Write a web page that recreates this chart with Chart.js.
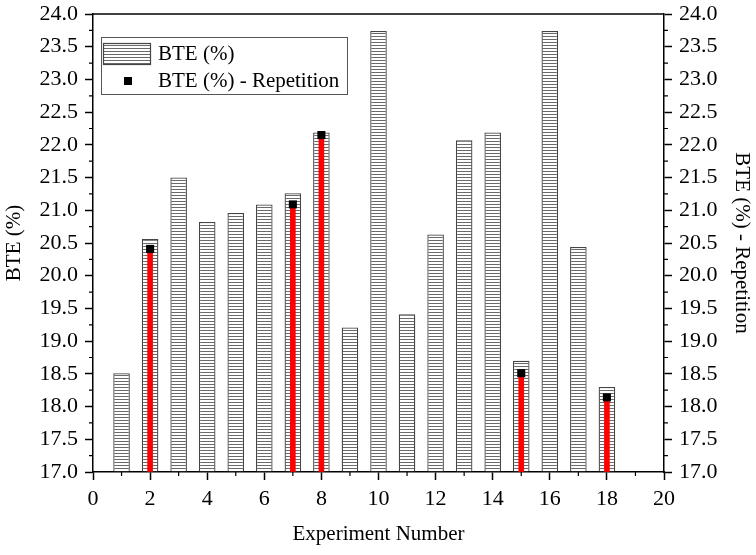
<!DOCTYPE html>
<html>
<head>
<meta charset="utf-8">
<script src="https://cdn.jsdelivr.net/npm/chart.js@4/dist/chart.umd.min.js"></script>
<style>
  html, body { margin: 0; padding: 0; background: #fff; }
  #wrap { width: 756px; height: 555px; }
</style>
</head>
<body>
<div id="wrap"><canvas id="bteChart" width="756" height="555"></canvas></div>
<script>
const experiments = [1, 2, 3, 4, 5, 6, 7, 8, 9, 10, 11, 12, 13, 14, 15, 16, 17, 18];
const bte = [18.51, 20.56, 21.50, 20.82, 20.96, 21.09, 21.26, 22.19, 19.21, 23.74, 19.41, 20.63, 22.07, 22.19, 18.70, 23.74, 20.44, 18.30];

const repExperiments = [2, 7, 8, 15, 18];
const bteRepetition = [20.41, 21.09, 22.15, 18.51, 18.14];

const yMin = 17, yMax = 24;
const FONT = "'Liberation Serif', 'Times New Roman', serif";
Chart.defaults.font.family = FONT;
Chart.defaults.font.size = 21;
Chart.defaults.color = "#000";

// horizontal line hatch for the bars
function hatch() {
    const c = document.createElement("canvas");
    c.width = 4; c.height = 3;
    const g = c.getContext("2d");
    g.fillStyle = "#fff";
    g.fillRect(0, 0, 4, 3);
    g.fillStyle = "#6a6a6a";
    g.fillRect(0, 0, 4, 1);
    return g.createPattern(c, "repeat");
}
const hatchFill = hatch();

// minor ticks + top frame line
const axisExtras = {
    id: "axisExtras",
    afterDraw(chart) {
        const ctx = chart.ctx;
        const a = chart.chartArea;
        const x = chart.scales.x, y = chart.scales.y;
        ctx.save();
        ctx.strokeStyle = "#000";
        ctx.lineWidth = 1.5;
        ctx.beginPath();
        ctx.moveTo(a.left, a.top);
        ctx.lineTo(a.right, a.top);
        ctx.stroke();
        ctx.lineWidth = 1.2;
        ctx.beginPath();
        for (let v = 1; v < 20; v += 2) {
            const px = x.getPixelForValue(v);
            ctx.moveTo(px, a.bottom);
            ctx.lineTo(px, a.bottom + 4);
        }
        for (let v = yMin + 0.25; v < yMax; v += 0.5) {
            const py = y.getPixelForValue(v);
            ctx.moveTo(a.left, py);
            ctx.lineTo(a.left - 4, py);
            ctx.moveTo(a.right, py);
            ctx.lineTo(a.right + 4, py);
        }
        ctx.stroke();
        ctx.restore();
    }
};

// boxed legend inside the plot, like the original
const boxLegend = {
    id: "boxLegend",
    afterDraw(chart) {
        const ctx = chart.ctx;
        const ds = chart.data.datasets;
        ctx.save();
        ctx.fillStyle = "#fff";
        ctx.fillRect(101, 37, 246, 57);
        ctx.strokeStyle = "#555";
        ctx.lineWidth = 1;
        ctx.strokeRect(101.5, 37.5, 246, 57);
        ctx.fillStyle = hatchFill;
        ctx.fillRect(103, 43, 47, 21);
        ctx.strokeStyle = "#444";
        ctx.lineWidth = 1.2;
        ctx.strokeRect(103.5, 43.5, 47, 21);
        ctx.fillStyle = "#000";
        ctx.fillRect(124, 77, 8, 8);
        ctx.font = "21px " + FONT;
        ctx.textBaseline = "middle";
        ctx.fillText(ds[0].label, 158, 54);
        ctx.fillText(ds[2].label, 158, 81);
        ctx.restore();
    }
};

const axisCommon = {
    min: yMin,
    max: yMax,
    ticks: {
        stepSize: 0.5,
        color: "#000",
        padding: 7,
        font: { family: FONT, size: 22 },
        callback: v => v.toFixed(1)
    },
    grid: { drawOnChartArea: false, color: "#000", tickLength: 8, tickWidth: 1.5 },
    border: { color: "#000", width: 1.5 }
};

const bteChart = new Chart(
    document.getElementById("bteChart"), {
        data: {
            datasets: [
                {
                    type: "bar",
                    label: "BTE (%)",
                    data: experiments.map((e, i) => ({ x: e, y: bte[i] })),
                    backgroundColor: hatchFill,
                    borderColor: "#444",
                    borderWidth: 1.3,
                    base: yMin,
                    barPercentage: 0.58,
                    categoryPercentage: 1,
                    grouped: false,
                    order: 3
                },
                {
                    type: "bar",
                    label: "drop",
                    data: repExperiments.map((e, i) => ({ x: e, y: bteRepetition[i] })),
                    backgroundColor: "#ff0000",
                    borderWidth: 0,
                    barThickness: 5,
                    base: yMin,
                    grouped: false,
                    order: 2
                },
                {
                    type: "scatter",
                    label: "BTE (%) - Repetition",
                    data: repExperiments.map((e, i) => ({ x: e, y: bteRepetition[i] })),
                    pointStyle: "rect",
                    radius: 5.7,
                    hoverRadius: 5.7,
                    backgroundColor: "#000",
                    borderColor: "#000",
                    borderWidth: 0,
                    order: 1
                }
            ]
        },
        options: {
            responsive: false,
            animation: false,
            layout: { padding: { top: 14, left: 0, right: 0, bottom: 0 } },
            plugins: {
                legend: { display: false },
                tooltip: { enabled: false }
            },
            scales: {
                x: {
                    type: "linear",
                    offset: false,
                    min: 0,
                    max: 20,
                    ticks: {
                        stepSize: 2,
                        color: "#000",
                        padding: 6,
                        maxRotation: 0,
                        font: { family: FONT, size: 22 }
                    },
                    grid: { drawOnChartArea: false, offset: false, color: "#000", tickLength: 8, tickWidth: 1.5 },
                    border: { color: "#000", width: 1.5 },
                    title: {
                        display: true,
                        text: "Experiment Number",
                        color: "#000",
                        padding: { top: 0, bottom: 8 },
                        font: { family: FONT, size: 21 }
                    },
                    afterFit: s => { s.height = 83; s.paddingLeft = 0; s.paddingRight = 0; }
                },
                y: Object.assign({}, axisCommon, {
                    position: "left",
                    title: {
                        display: true,
                        text: "BTE (%)",
                        color: "#000",
                        padding: { top: 2, bottom: 0 },
                        font: { family: FONT, size: 21 }
                    },
                    afterFit: s => { s.width = 93; s.paddingTop = 0; s.paddingBottom = 0; }
                }),
                y2: Object.assign({}, axisCommon, {
                    position: "right",
                    title: {
                        display: true,
                        text: "BTE (%) - Repetition",
                        color: "#000",
                        padding: { top: 2, bottom: 0 },
                        font: { family: FONT, size: 21 }
                    },
                    afterFit: s => { s.width = 92; s.paddingTop = 0; s.paddingBottom = 0; }
                })
            }
        },
        plugins: [axisExtras, boxLegend]
    }
);
</script>
</body>
</html>
